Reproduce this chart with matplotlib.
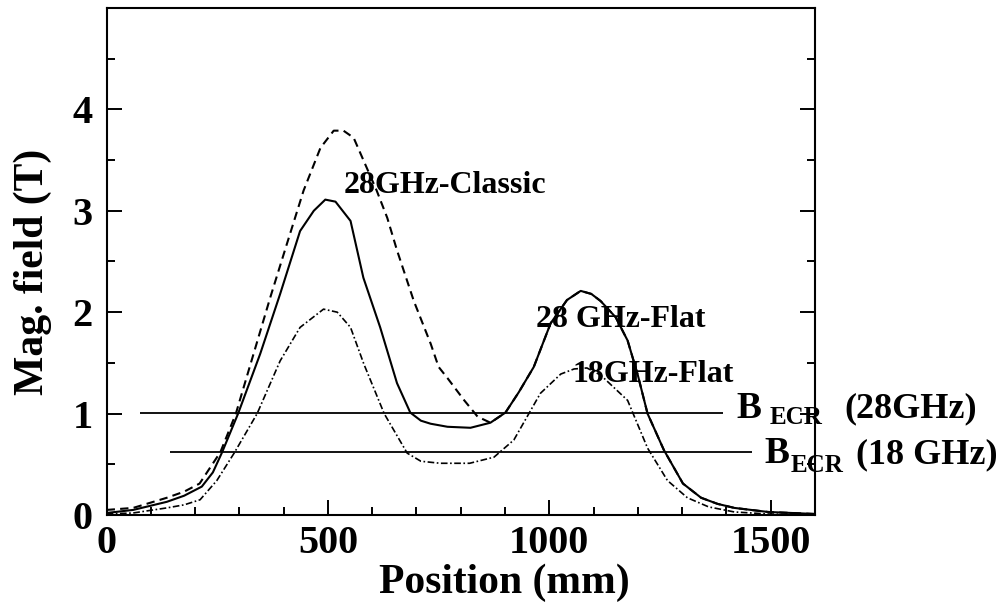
import matplotlib
matplotlib.use("Agg")
import matplotlib.pyplot as plt
from matplotlib.ticker import MultipleLocator

# 28 GHz-Flat (solid)
flat28_x = [0, 60, 136, 175, 215, 240, 261, 297, 347, 392, 437, 468, 494, 517, 551,
            580, 618, 656, 686, 710, 732, 770, 822, 867, 901, 931, 965, 1003,
            1040, 1071, 1095, 1116, 1150, 1177, 1200, 1222, 1259, 1302, 1343, 1380,
            1418, 1494, 1600]
flat28_y = [0.02, 0.05, 0.13, 0.19, 0.28, 0.42, 0.62, 1.00, 1.59, 2.18, 2.80, 3.00,
            3.11, 3.09, 2.90, 2.34, 1.85, 1.30, 1.01, 0.93, 0.90, 0.87, 0.86,
            0.91, 1.01, 1.21, 1.46, 1.89, 2.12, 2.21, 2.18, 2.11, 1.95, 1.72, 1.38,
            1.00, 0.64, 0.31, 0.17, 0.11, 0.07, 0.03, 0.01]

# 28GHz-Classic (dashed), joins the flat curve after ~870 mm
classic_x = [0, 60, 136, 175, 210, 257, 292, 332, 370, 407, 445, 483, 513, 535, 558,
             588, 610, 634, 656, 694, 732, 750, 770, 808, 838, 867, 901, 931,
             965, 1003, 1040, 1071, 1095, 1116, 1150, 1177, 1200, 1222, 1259, 1302,
             1343, 1380, 1418, 1494, 1600]
classic_y = [0.05, 0.07, 0.17, 0.23, 0.31, 0.62, 1.00, 1.59, 2.15, 2.67, 3.20, 3.62,
             3.79, 3.79, 3.72, 3.42, 3.20, 2.93, 2.61, 2.11, 1.69, 1.46, 1.35,
             1.13, 0.97, 0.91, 1.01, 1.21, 1.46, 1.89, 2.12, 2.21, 2.18, 2.11, 1.95,
             1.72, 1.38, 1.00, 0.64, 0.31, 0.17, 0.11, 0.07, 0.03, 0.01]

# 18GHz-Flat (dash-dot)
flat18_x = [0, 60, 136, 175, 211, 249, 288, 340, 392, 437, 490, 521, 551, 581,
            627, 679, 710, 754, 820, 875, 920, 980, 1026, 1056, 1085, 1116, 1177,
            1222, 1267, 1312, 1360, 1418, 1494, 1600]
flat18_y = [0.01, 0.02, 0.07, 0.10, 0.15, 0.34, 0.61, 1.00, 1.52, 1.85, 2.03, 2.00,
            1.85, 1.49, 1.00, 0.61, 0.53, 0.51, 0.51, 0.57, 0.74, 1.20, 1.39,
            1.44, 1.45, 1.38, 1.13, 0.66, 0.34, 0.17, 0.08, 0.03, 0.01, 0.0]

# ECR resonance fields
becr28 = 1.01
becr28_span = [75, 1392]
becr18 = 0.62
becr18_span = [143, 1459]

plt.rcParams['font.family'] = ['Liberation Serif', 'DejaVu Serif']
plt.rcParams['font.weight'] = 'bold'

fig = plt.figure(figsize=(10.06, 6.12), dpi=100)
ax = fig.add_axes([0.106, 0.1585, 0.704, 0.8285])

ax.plot(classic_x, classic_y, color='black', lw=1.5, linestyle=(0, (4, 2.5)))
ax.plot(flat28_x, flat28_y, color='black', lw=1.5)
ax.plot(flat18_x, flat18_y, color='black', lw=1.2, linestyle=(0, (4, 1.5, 1, 1.5)))
ax.hlines(becr28, becr28_span[0], becr28_span[1], color='black', lw=1.3)
ax.hlines(becr18, becr18_span[0], becr18_span[1], color='black', lw=1.3)

ax.set_xlim(0, 1600)
ax.set_ylim(0, 5)
ax.xaxis.set_major_locator(MultipleLocator(500))
ax.xaxis.set_minor_locator(MultipleLocator(100))
ax.yaxis.set_major_locator(MultipleLocator(1))
ax.yaxis.set_minor_locator(MultipleLocator(0.5))
ax.set_yticks([0, 1, 2, 3, 4])
ax.tick_params(which='both', direction='in', width=1.4, labelsize=29,
               bottom=True, left=True, right=True, top=False)
ax.tick_params(which='major', length=10.8)
ax.tick_params(which='minor', length=5.8)
ax.tick_params(axis='x', pad=7)
ax.tick_params(axis='y', pad=10)
for s in ax.spines.values():
    s.set_linewidth(1.5)

ax.set_xlabel('Position (mm)', fontsize=30, fontweight='bold')
ax.xaxis.set_label_coords(0.562, -0.095)
ax.set_ylabel('Mag. field (T)', fontsize=30, fontweight='bold')
ax.yaxis.set_label_coords(-0.077, 0.479)

ax.text(535, 3.18, '28GHz-Classic', fontsize=23, fontweight='bold', va='baseline')
ax.text(969, 1.85, '28 GHz-Flat', fontsize=23, fontweight='bold', va='baseline')
ax.text(1053, 1.31, '18GHz-Flat', fontsize=23, fontweight='bold', va='baseline')

# B_ECR labels: main letter, subscript, frequency
for (x0, y0, sub_dx, sub_dy, f_dx, freq) in [(1422, 0.96, 24, -4.3, 78, '(28GHz)'),
                                             (1485, 0.51, 19, -6.5, 66, '(18 GHz)')]:
    ax.annotate('B', (x0, y0), fontsize=27, fontweight='bold', va='baseline',
                annotation_clip=False)
    ax.annotate('ECR', (x0, y0), xytext=(sub_dx, sub_dy), textcoords='offset points',
                fontsize=18, fontweight='bold', va='baseline', annotation_clip=False)
    ax.annotate(freq, (x0, y0), xytext=(f_dx, 0), textcoords='offset points',
                fontsize=26, fontweight='bold', va='baseline', annotation_clip=False)

fig.savefig('out.png', dpi=100)
